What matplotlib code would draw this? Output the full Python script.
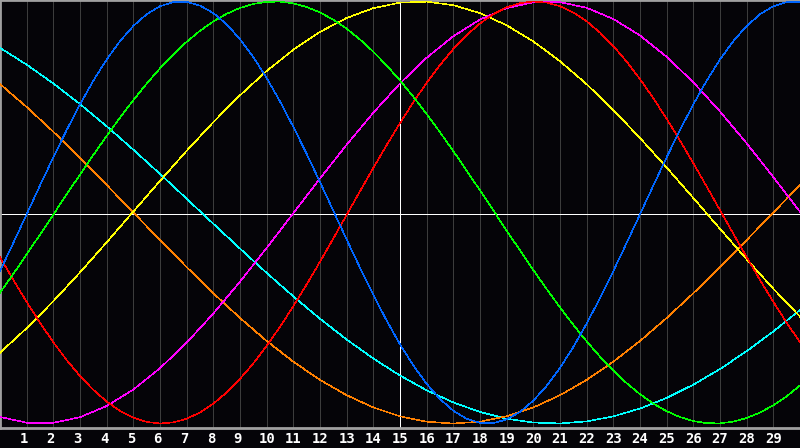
import matplotlib
matplotlib.use("Agg")
import matplotlib.pyplot as plt
import matplotlib.transforms as mtransforms

# ---- data ----
days = list(range(0, 31))                  # one value per day
half_days = [i / 2 for i in range(61)]     # one value per half day (fast cycles)
tick_days = list(range(1, 30))
tick_labels = [str(d) for d in tick_days]
today = 15

blue = [-0.2777, -0.1442, -0.0082, 0.1281, 0.2618, 0.3909, 0.5124, 0.6248, 0.7253, 0.8122,
        0.8841, 0.9395, 0.9774, 0.9971, 0.9982, 0.9807, 0.9450, 0.8917, 0.8216, 0.7362,
        0.6374, 0.5265, 0.4058, 0.2777, 0.1443, 0.0082, -0.1281, -0.2618, -0.3909, -0.5124,
        -0.6248, -0.7253, -0.8122, -0.8841, -0.9395, -0.9774, -0.9971, -0.9982, -0.9807, -0.9450,
        -0.8917, -0.8216, -0.7362, -0.6374, -0.5265, -0.4058, -0.2777, -0.1442, -0.0082, 0.1281,
        0.2618, 0.3909, 0.5124, 0.6248, 0.7253, 0.8122, 0.8841, 0.9395, 0.9774, 0.9971, 0.9982]
red = [-0.2115, -0.3197, -0.4237, -0.5225, -0.6149, -0.6992, -0.7748, -0.8406, -0.8960, -0.9401,
       -0.9724, -0.9924, -0.9999, -0.9949, -0.9774, -0.9476, -0.9059, -0.8526, -0.7886, -0.7151,
       -0.6322, -0.5416, -0.4440, -0.3409, -0.2334, -0.1231, -0.0112, 0.1009, 0.2115, 0.3197,
       0.4237, 0.5225, 0.6149, 0.6992, 0.7748, 0.8406, 0.8960, 0.9401, 0.9724, 0.9924,
       0.9999, 0.9949, 0.9774, 0.9476, 0.9059, 0.8526, 0.7886, 0.7151, 0.6322, 0.5416,
       0.4440, 0.3409, 0.2334, 0.1231, 0.0112, -0.1009, -0.2115, -0.3197, -0.4237, -0.5225, -0.6149]
green = [-0.3804, -0.2909, -0.1985, -0.1045, -0.0096, 0.0856, 0.1799, 0.2726, 0.3628, 0.4498,
         0.5326, 0.6107, 0.6830, 0.7495, 0.8090, 0.8612, 0.9056, 0.9418, 0.9695, 0.9884,
         0.9984, 0.9993, 0.9911, 0.9740, 0.9481, 0.9135, 0.8708, 0.8200, 0.7620, 0.6970,
         0.6255, 0.5487, 0.4667, 0.3804, 0.2909, 0.1985, 0.1045, 0.0096, -0.0856, -0.1799,
         -0.2726, -0.3628, -0.4498, -0.5326, -0.6107, -0.6830, -0.7495, -0.8090, -0.8612, -0.9056,
         -0.9418, -0.9695, -0.9884, -0.9984, -0.9993, -0.9911, -0.9740, -0.9481, -0.9135, -0.8708, -0.8200]
yellow = [-0.6643, -0.5482, -0.4204, -0.2839, -0.1412, 0.0044, 0.1499, 0.2924, 0.4285, 0.5555,
          0.6706, 0.7714, 0.8559, 0.9221, 0.9686, 0.9945, 0.9992, 0.9826, 0.9450, 0.8873,
          0.8108, 0.7170, 0.6078, 0.4856, 0.3531, 0.2132, 0.0686, -0.0774, -0.2217, -0.3613, -0.4934]
magenta = [-0.9686, -0.9963, -0.9968, -0.9702, -0.9171, -0.8391, -0.7380, -0.6167, -0.4788, -0.3278,
           -0.1678, -0.0033, 0.1613, 0.3215, 0.4730, 0.6117, 0.7335, 0.8354, 0.9145, 0.9686,
           0.9963, 0.9969, 0.9702, 0.9171, 0.8390, 0.7380, 0.6168, 0.4789, 0.3278, 0.1678, 0.0033]
cyan = [0.7802, 0.7008, 0.6115, 0.5137, 0.4085, 0.2977, 0.1827, 0.0652, -0.0534, -0.1711,
        -0.2864, -0.3977, -0.5035, -0.6021, -0.6921, -0.7726, -0.8425, -0.9002, -0.9454, -0.9773,
        -0.9955, -0.9997, -0.9899, -0.9662, -0.9289, -0.8786, -0.8159, -0.7418, -0.6573, -0.5636, -0.4619]
orange = [0.6088, 0.5, 0.3827, 0.2588, 0.1305, 0.0, -0.1305, -0.2588, -0.3827, -0.5,
          -0.6088, -0.7071, -0.7934, -0.8660, -0.9239, -0.9659, -0.9914, -1.0, -0.9914, -0.9659,
          -0.9239, -0.8660, -0.7934, -0.7071, -0.6088, -0.5, -0.3827, -0.2588, -0.1305, 0.0, 0.1305]

series = [
    (days, cyan, "#00ffff"),
    (days, orange, "#ff8000"),
    (days, yellow, "#ffff00"),
    (days, magenta, "#ff00ff"),
    (half_days, red, "#ff0000"),
    (half_days, green, "#00ff00"),
    (half_days, blue, "#0066ff"),
]

# ---- figure ----
BG = "#050408"
fig = plt.figure(figsize=(8.0, 4.48), dpi=100, facecolor=BG)
ax = fig.add_axes([0.0, 20 / 448, 1.0, 428 / 448], facecolor=BG)

ax.set_xlim(0, 30)
ax.set_ylim(-1.0213, 1.0071)

for d in tick_days:
    if d == today:
        continue
    ax.axvline(d, color="#3c3c3c", lw=0.72, zorder=1, antialiased=False)

ax.axvline(today, color="#ffffff", lw=0.72, zorder=2, antialiased=False)
ax.axhline(-0.007, color="#ffffff", lw=0.72, zorder=2, antialiased=False)

for xs, vals, col in series:
    ax.plot(xs, vals, color=col, lw=0.4, zorder=3, antialiased=False)

for side in ["left", "top", "bottom"]:
    ax.spines[side].set_color("#a0a0a0")
    ax.spines[side].set_linewidth(2.0)
ax.spines["right"].set_visible(False)

ax.set_xticks([])
ax.set_yticks([])

for d, lab in zip(tick_days, tick_labels):
    off = mtransforms.offset_copy(ax.transData, fig=fig,
                                  x=(-2.5 if len(lab) == 1 else 0), y=0, units="dots")
    tr = mtransforms.blended_transform_factory(off, fig.transFigure)
    ax.text(d, 1 - 439 / 448, lab, transform=tr, ha="center", va="center",
            color="white", fontsize=10, fontweight="bold", family="DejaVu Sans Mono",
            clip_on=False)

fig.savefig("out.png", dpi=100, facecolor=BG)
